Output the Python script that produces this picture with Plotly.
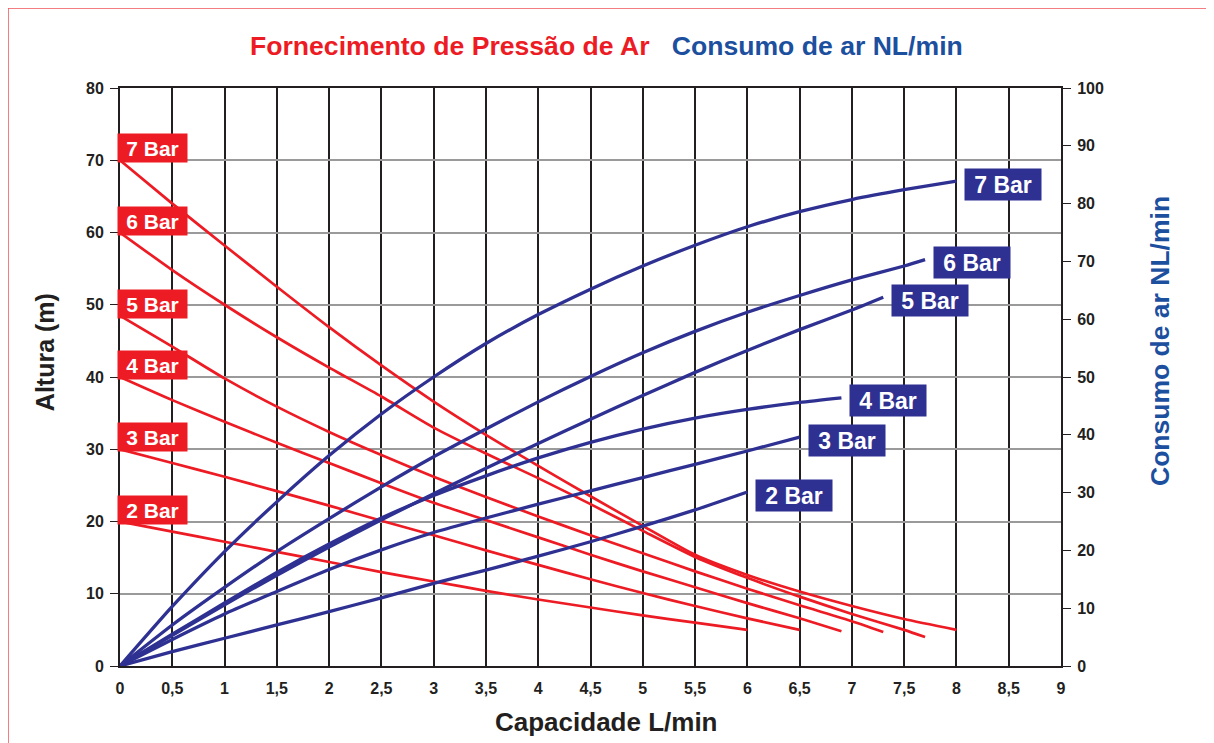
import plotly.graph_objects as go

# ---------------- data ----------------
labels = ["2 Bar", "3 Bar", "4 Bar", "5 Bar", "6 Bar", "7 Bar"]

# Red: Fornecimento de Pressão de Ar -> Altura (m), left axis
red_x = {
    "2 Bar": [0, 0.5, 1, 1.5, 2, 2.5, 3, 3.5, 4, 4.5, 5, 5.5, 6],
    "3 Bar": [0, 0.5, 1, 1.5, 2, 2.5, 3, 3.5, 4, 4.5, 5, 5.5, 6, 6.5],
    "4 Bar": [0, 0.5, 1, 1.5, 2, 2.5, 3, 3.5, 4, 4.5, 5, 5.5, 6, 6.5, 6.9],
    "5 Bar": [0, 0.5, 1, 1.5, 2, 2.5, 3, 3.5, 4, 4.5, 5, 5.5, 6, 6.5, 7, 7.3],
    "6 Bar": [0, 0.5, 1, 1.5, 2, 2.5, 3, 3.5, 4, 4.5, 5, 5.5, 6, 6.5, 7, 7.5, 7.7],
    "7 Bar": [0, 0.5, 1, 1.5, 2, 2.5, 3, 3.5, 4, 4.5, 5, 5.5, 6, 6.5, 7, 7.5, 8],
}
red_y = {
    "2 Bar": [20, 18.6, 17.2, 15.8, 14.4, 13.0, 11.7, 10.4, 9.2, 8.1, 7.0, 6.0, 5.0],
    "3 Bar": [30, 28.1, 26.2, 24.2, 22.2, 20.1, 18.1, 16.0, 14.0, 12.0, 10.1, 8.3, 6.6, 5.0],
    "4 Bar": [40, 36.8, 33.8, 30.9, 28.1, 25.3, 22.6, 20.2, 17.8, 15.4, 13.1, 10.9, 8.7, 6.6, 4.8],
    "5 Bar": [48.5, 44.2, 39.8, 35.9, 32.4, 29.2, 26.2, 23.4, 20.7, 18.1, 15.6, 13.1, 10.7, 8.4, 6.2, 4.7],
    "6 Bar": [60, 54.8, 50, 45.5, 41.3, 37.3, 33.0, 29.4, 26.0, 22.4, 18.7, 15.1, 12.2, 9.6, 7.2, 5.0, 4.0],
    "7 Bar": [70, 64.0, 58.2, 52.5, 46.9, 41.6, 36.6, 32.0, 27.7, 23.5, 19.4, 15.4, 12.6, 10.3, 8.3, 6.5, 5.0],
}

# Blue: Consumo de ar NL/min, right axis
blue_x = red_x
blue_y = {
    "2 Bar": [0, 2.5, 4.8, 7.1, 9.4, 11.8, 14.3, 16.6, 19.0, 21.5, 24.2, 27.0, 30.1],
    "3 Bar": [0, 4.6, 9.0, 12.9, 16.7, 20.1, 23.1, 25.6, 28.0, 30.3, 32.6, 34.9, 37.2, 39.6],
    "4 Bar": [0, 5.5, 10.9, 16.2, 21.1, 25.6, 29.5, 32.9, 36.0, 38.7, 41.0, 42.9, 44.4, 45.6, 46.4],
    "5 Bar": [0, 5.3, 10.6, 15.7, 20.6, 25.3, 29.8, 34.2, 38.5, 42.7, 46.8, 50.8, 54.6, 58.2, 61.6, 63.8],
    "6 Bar": [0, 7.1, 13.6, 19.8, 25.5, 31.0, 36.2, 41.0, 45.7, 50.1, 54.2, 57.9, 61.2, 64.1, 66.8, 69.2, 70.3],
    "7 Bar": [0, 10.3, 19.8, 28.4, 36.4, 43.6, 50.0, 55.8, 60.8, 65.2, 69.2, 72.8, 76.0, 78.6, 80.7, 82.4, 83.9],
}

x_ticks = [0, 0.5, 1, 1.5, 2, 2.5, 3, 3.5, 4, 4.5, 5, 5.5, 6, 6.5, 7, 7.5, 8, 8.5, 9]
x_ticktext = ["0", "0,5", "1", "1,5", "2", "2,5", "3", "3,5", "4", "4,5", "5",
              "5,5", "6", "6,5", "7", "7,5", "8", "8,5", "9"]

title_red = "Fornecimento de Pressão de Ar"
title_blue = "Consumo de ar NL/min"
x_title = "Capacidade L/min"
y_title = "Altura (m)"
y2_title = "Consumo de ar NL/min"

# ---------------- style ----------------
RED = "#ed1c24"
NAVY = "#2e3192"
TBLUE = "#1d4f9f"
DARK = "#231f20"
FONT = "Liberation Sans, Arial, Helvetica, sans-serif"

fig = go.Figure()

for lab in labels:
    fig.add_trace(go.Scatter(x=red_x[lab], y=red_y[lab], mode="lines",
                             line=dict(color=RED, width=2.7, shape="spline", smoothing=0.6),
                             yaxis="y", hoverinfo="skip", showlegend=False))
for lab in labels:
    fig.add_trace(go.Scatter(x=blue_x[lab], y=blue_y[lab], mode="lines",
                             line=dict(color=NAVY, width=3.3, shape="spline", smoothing=0.6),
                             yaxis="y2", hoverinfo="skip", showlegend=False))

annotations = []
for lab in labels:
    annotations.append(dict(x=red_x[lab][0], y=red_y[lab][0], xref="x", yref="y",
                            text="<b>%s</b>" % lab, showarrow=False,
                            xanchor="left", yanchor="bottom", xshift=-3, yshift=-3,
                            bgcolor=RED, width=67, height=26, borderpad=1,
                            font=dict(color="white", size=21, family=FONT)))
    annotations.append(dict(x=blue_x[lab][-1], y=blue_y[lab][-1], xref="x", yref="y2",
                            text="<b>%s</b>" % lab, showarrow=False,
                            xanchor="left", yanchor="middle", xshift=8, yshift=-3,
                            bgcolor=NAVY, width=74, height=29, borderpad=1,
                            font=dict(color="white", size=23, family=FONT)))

annotations += [
    dict(x=0.517, y=1.0727, xref="paper", yref="paper", showarrow=False,
         xanchor="center", yanchor="middle",
         text="<b><span style='color:%s'>%s</span>   <span style='color:%s'>%s</span></b>"
              % (RED, title_red, TBLUE, title_blue),
         font=dict(size=26.6, family=FONT)),
    dict(x=0.5165, y=-0.097, xref="paper", yref="paper", showarrow=False,
         xanchor="center", yanchor="middle", text="<b>%s</b>" % x_title,
         font=dict(size=26, color=DARK, family=FONT)),
    dict(x=-0.0797, y=0.543, xref="paper", yref="paper", showarrow=False,
         xanchor="center", yanchor="middle", textangle=-90, text="<b>%s</b>" % y_title,
         font=dict(size=25, color=DARK, family=FONT)),
    dict(x=1.105, y=0.562, xref="paper", yref="paper", showarrow=False,
         xanchor="center", yanchor="middle", textangle=-90, text="<b>%s</b>" % y2_title,
         font=dict(size=26.5, color=TBLUE, family=FONT)),
]

# page body adds an 8px offset; margins compensate so the plot sits at (120, 88)
fig.update_layout(
    width=1214, height=743,
    margin=dict(l=112, r=161, t=80, b=85, autoexpand=False),
    paper_bgcolor="white", plot_bgcolor="white",
    font=dict(family=FONT, color=DARK),
    annotations=annotations,
    xaxis=dict(range=[0, 9], tickvals=x_ticks, ticktext=x_ticktext,
               showgrid=True, gridcolor=DARK, gridwidth=2,
               showline=True, linecolor=DARK, linewidth=2, mirror=True,
               ticks="", zeroline=False, automargin=False, ticklabelstandoff=7,
               tickfont=dict(size=16, color=DARK, family=FONT, weight="bold")),
    yaxis=dict(range=[0, 80], dtick=10, showgrid=True, gridcolor="#9a9a9a", gridwidth=1.5,
               showline=True, linecolor=DARK, linewidth=2, ticks="outside", ticklen=8,
               tickcolor=DARK, zeroline=False, automargin=False, ticklabelstandoff=3,
               tickfont=dict(size=16, color=DARK, family=FONT, weight="bold")),
    yaxis2=dict(range=[0, 100], dtick=10, overlaying="y", side="right", showgrid=False,
                showline=True, linecolor=DARK, linewidth=2, ticks="outside", ticklen=8,
                tickcolor=DARK, zeroline=False, automargin=False, ticklabelstandoff=3,
                tickfont=dict(size=16, color=DARK, family=FONT, weight="bold")),
    shapes=[dict(type="rect", xref="paper", yref="paper",
                 x0=(8 - 120) / 941, x1=(1210 - 120) / 941,
                 y0=(666 - 780) / 578, y1=(666 - 8) / 578,
                 line=dict(color="#f0545a", width=1.5), layer="below")],
)

fig.write_html("out.html")
